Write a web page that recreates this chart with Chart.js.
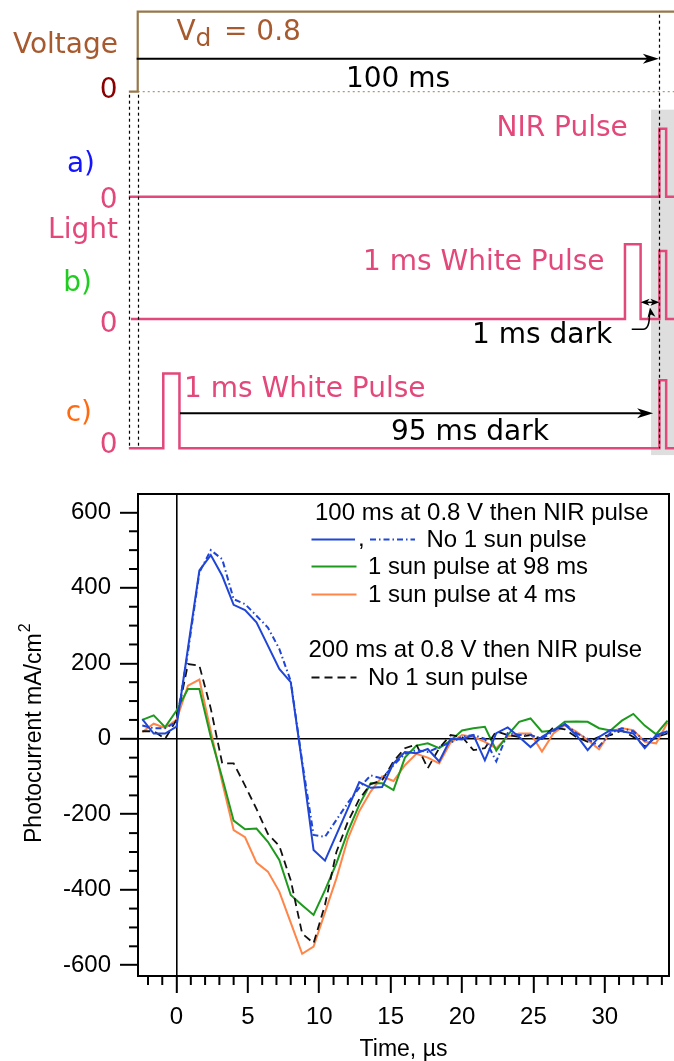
<!DOCTYPE html>
<html>
<head>
<meta charset="utf-8">
<title>NIR pulse photocurrent</title>
<script src="https://cdn.jsdelivr.net/npm/chart.js@4.4.0/dist/chart.umd.min.js"></script>
<style>
  html, body { margin: 0; padding: 0; background: #fff; }
  #wrap { position: relative; width: 674px; height: 1061px; overflow: hidden; }
  #timing { position: absolute; left: 0; top: 0; }
  #current { position: absolute; left: 0; top: 470px; }
</style>
</head>
<body>
<div id="wrap">
  <canvas id="timing" width="674" height="470"></canvas>
  <canvas id="current" width="674" height="591"></canvas>
</div>
<script>
// ---------- timing diagram (time in ms) ----------
const traceStart = -1.7;
const traceEnd = 103;
const voltageTime = [traceStart, 0, 0, traceEnd];
const voltageLevel = [0, 0, 0.8, 0.8];
const nirPulse = [100, 101.3];
const whitePulseB = [93.4, 96.4];
const whitePulseC = [4.9, 8.0];
const nirLevel = 1.0;
const whiteLevel = 1.1;

// ---------- photocurrent transients (time in µs, mA/cm²) ----------
const timeUs = [-2.4, -1.6, -0.8, 0, 0.8, 1.6, 2.4, 3.2, 4.0, 4.8, 5.6, 6.4, 7.2, 8.0, 8.8, 9.6,
  10.4, 11.2, 12.0, 12.8, 13.6, 14.4, 15.2, 16.0, 16.8, 17.6, 18.4, 19.2, 20.0, 20.8, 21.6, 22.4,
  23.2, 24.0, 24.8, 25.6, 26.4, 27.2, 28.0, 28.8, 29.6, 30.4, 31.2, 32.0, 32.8, 33.6, 34.4];
const noSunSolid = [52, 14, 14, 32, 240, 446, 487, 432, 355, 341, 309, 247, 185, 150, -65, -295,
  -323, -254, -185, -115, -130, -128, -65, -35, -38, -27, -60, 0, -2, 10, -57, 15,
  30, 5, -22, 5, 23, 38, 10, -30, 5, 23, 20, 14, -25, 10, 20];
const noSunDashDot = [35, 28, 28, 45, 230, 441, 500, 476, 370, 357, 326, 295, 238, 153, -60, -255,
  -260, -215, -170, -130, -97, -105, -70, -40, -30, -35, -22, -10, 5, 10, 0, -60,
  15, 10, 10, 0, 20, 40, 15, 0, -20, 15, 28, 20, -5, 5, 18];
const sunAt98 = [50, 62, 31, 75, 132, 132, 5, -103, -217, -240, -238, -273, -321, -414, -441, -467,
  -401, -330, -246, -175, -118, -118, -136, -50, -18, -12, -25, -5, 22, 28, 32, -31,
  10, 45, 54, 19, 22, 45, 46, 45, 28, 22, 48, 66, 35, 12, 48];
const sunAt4 = [18, 40, 29, 50, 141, 157, 20, -115, -242, -261, -328, -352, -405, -487, -570, -551,
  -460, -370, -265, -192, -140, -100, -112, -70, -40, -50, -65, -10, 10, 5, -8, -25,
  6, 14, 14, -34, 14, 36, 19, -3, -28, 19, 28, 23, -8, -12, 43];
const noSun200 = [20, 20, 0, 50, 198, 194, 80, -65, -65, -124, -186, -252, -284, -375, -516, -542,
  -440, -300, -220, -160, -120, -110, -60, -25, -15, -78, -25, 10, 5, -30, -25, 20,
  10, 5, 10, 0, 30, 25, 5, -8, 5, 10, 22, 5, -20, 5, 14];
const xTickLabels = [0, 5, 10, 15, 20, 25, 30];
const yTickLabels = [-600, -400, -200, 0, 200, 400, 600];

const PINK = '#e2487a';
const BROWN = '#97784a';
const SIENNA = '#a65a2e';
const BLUE = '#1f46d6';
const GREEN = '#1d9a1d';
const ORANGE = '#ff8548';
const DEJAVU = '"DejaVu Sans", Verdana, sans-serif';
const SANS = '"Liberation Sans", Arial, Helvetica, sans-serif';

Chart.defaults.font.family = SANS;
Chart.defaults.color = '#000';

// light trace: dark baseline with rectangular pulses [t0, t1, level]
function pulseTrace(start, pulses) {
  const pts = [{ x: start, y: 0 }];
  pulses.forEach(([t0, t1, lvl]) => {
    pts.push({ x: t0, y: 0 }, { x: t0, y: lvl }, { x: t1, y: lvl }, { x: t1, y: 0 });
  });
  pts.push({ x: traceEnd, y: 0 });
  return pts;
}

// filled, slightly barbed arrow head pointing along angle
function arrowHead(ctx, x, y, angle, len, half) {
  ctx.save();
  ctx.translate(x, y);
  ctx.rotate(angle);
  ctx.beginPath();
  ctx.moveTo(0, 0);
  ctx.lineTo(-len, -half);
  ctx.lineTo(-len * 0.72, 0);
  ctx.lineTo(-len, half);
  ctx.closePath();
  ctx.fill();
  ctx.restore();
}

function label(ctx, text, x, y, color, align, font, maxWidth) {
  ctx.font = font;
  ctx.fillStyle = color;
  ctx.textAlign = align;
  ctx.textBaseline = 'alphabetic';
  if (maxWidth) ctx.fillText(text, x, y, maxWidth);
  else ctx.fillText(text, x, y);
}

const TIMING_H = 470;
// each row gets its own hidden y axis so that level 0 sits on the row baseline
function rowAxis(basePx, pxPerUnit) {
  return { type: 'linear', display: false, min: -(TIMING_H - basePx) / pxPerUnit, max: basePx / pxPerUnit };
}

const timingDecor = {
  id: 'timingDecor',
  beforeDatasetsDraw(chart) {
    const { ctx, chartArea, scales } = chart;
    const { x, yV, yA, yC } = scales;
    ctx.save();
    // NIR probe window
    ctx.fillStyle = '#dedede';
    const bx = x.getPixelForValue(98.4);
    const top = yA.getPixelForValue(1.28);
    const bottom = yC.getPixelForValue(-0.1);
    ctx.fillRect(bx, top, chartArea.right - bx, bottom - top);
    // voltage zero reference
    ctx.strokeStyle = '#b39874';
    ctx.lineWidth = 1.3;
    ctx.setLineDash([2, 3]);
    ctx.beginPath();
    ctx.moveTo(x.getPixelForValue(0), yV.getPixelForValue(0));
    ctx.lineTo(chartArea.right, yV.getPixelForValue(0));
    ctx.stroke();
    ctx.restore();
  },
  afterDatasetsDraw(chart) {
    const { ctx, scales } = chart;
    const { x, yV, yB, yC } = scales;
    ctx.save();
    // time markers
    ctx.strokeStyle = '#000';
    ctx.lineWidth = 1.2;
    ctx.setLineDash([3, 3]);
    [[traceStart, -0.03], [0, -0.03], [nirPulse[0], 0.77]].forEach(([t, v]) => {
      const px = Math.round(x.getPixelForValue(t)) + 0.5;
      ctx.beginPath();
      ctx.moveTo(px, yV.getPixelForValue(v));
      ctx.lineTo(px, yC.getPixelForValue(0));
      ctx.stroke();
    });
    ctx.setLineDash([]);

    ctx.lineWidth = 2;
    ctx.fillStyle = '#000';
    // 100 ms arrow
    let ay = yV.getPixelForValue(0.33);
    let x0 = x.getPixelForValue(-0.2), x1 = x.getPixelForValue(99.9);
    ctx.beginPath(); ctx.moveTo(x0, ay); ctx.lineTo(x1 - 8, ay); ctx.stroke();
    arrowHead(ctx, x1, ay, 0, 16, 5);
    // 95 ms dark arrow
    ay = yC.getPixelForValue(0.515);
    x0 = x.getPixelForValue(whitePulseC[1] + 0.1); x1 = x.getPixelForValue(98.8);
    ctx.beginPath(); ctx.moveTo(x0, ay); ctx.lineTo(x1 - 8, ay); ctx.stroke();
    arrowHead(ctx, x1, ay, 0, 16, 5);
    // 1 ms dark double arrow
    ay = yB.getPixelForValue(0.245);
    x0 = x.getPixelForValue(whitePulseB[1]); x1 = x.getPixelForValue(nirPulse[0]);
    ctx.lineWidth = 1.6;
    ctx.beginPath(); ctx.moveTo(x0 + 5, ay); ctx.lineTo(x1 - 5, ay); ctx.stroke();
    arrowHead(ctx, x1, ay, 0, 9, 3.5);
    arrowHead(ctx, x0, ay, Math.PI, 9, 3.5);
    // hook from the label up to the gap
    const hy = yB.getPixelForValue(-0.15);
    const hx0 = x.getPixelForValue(94.7), hx1 = x.getPixelForValue(96.9), hx2 = x.getPixelForValue(98.1);
    const tipY = yB.getPixelForValue(0.17);
    ctx.beginPath();
    ctx.moveTo(hx0, hy);
    ctx.lineTo(hx1, hy);
    ctx.quadraticCurveTo(hx2, hy, hx2, tipY + 7);
    ctx.stroke();
    arrowHead(ctx, hx2 + 0.5, tipY, -Math.PI / 2 - 0.15, 10, 4);

    // text
    const F = '28px ' + DEJAVU;
    label(ctx, 'Voltage', 118, 53, SIENNA, 'right', F, 108);
    label(ctx, '0', 117.5, 98, '#8b0000', 'right', F);
    label(ctx, 'V', 176.5, 40, SIENNA, 'left', F);
    label(ctx, 'd', 195.5, 46, SIENNA, 'left', '25px ' + DEJAVU);
    label(ctx, '= 0.8', 224, 40, SIENNA, 'left', F, 79);
    label(ctx, '100 ms', (x.getPixelForValue(0) + x.getPixelForValue(100)) / 2 - 0.5, 87, '#000', 'center', F, 106);
    label(ctx, 'NIR Pulse', 496.5, 136, PINK, 'left', F, 136);
    label(ctx, 'a)', 95, 172, '#1414ff', 'right', F);
    label(ctx, '0', 117.5, 208, PINK, 'right', F);
    label(ctx, 'Light', 118, 238, PINK, 'right', F, 70);
    label(ctx, '1 ms White Pulse', 363, 270, PINK, 'left', F, 248);
    label(ctx, 'b)', 92, 291, '#20cc20', 'right', F);
    label(ctx, '0', 117.5, 331.5, PINK, 'right', F);
    label(ctx, '1 ms dark', 472, 343, '#000', 'left', F, 143);
    label(ctx, '1 ms White Pulse', 184, 396.5, PINK, 'left', F, 248);
    label(ctx, 'c)', 92, 421, '#ff6a10', 'right', F);
    label(ctx, '95 ms dark', 391, 440, '#000', 'left', F, 164);
    label(ctx, '0', 117.5, 452.5, PINK, 'right', F);
    ctx.restore();
  }
};

new Chart(document.getElementById('timing'), {
  type: 'line',
  data: {
    datasets: [
      {
        label: 'Voltage',
        data: voltageTime.map((t, i) => ({ x: t, y: voltageLevel[i] })),
        yAxisID: 'yV', borderColor: BROWN, borderWidth: 2.2
      },
      {
        label: 'a) NIR only',
        data: pulseTrace(traceStart, [[nirPulse[0], nirPulse[1], nirLevel]]),
        yAxisID: 'yA', borderColor: PINK, borderWidth: 2.5
      },
      {
        label: 'b) white then NIR',
        data: pulseTrace(-1.3, [[whitePulseB[0], whitePulseB[1], whiteLevel], [nirPulse[0], nirPulse[1], nirLevel]]),
        yAxisID: 'yB', borderColor: PINK, borderWidth: 2.5
      },
      {
        label: 'c) early white then NIR',
        data: pulseTrace(traceStart, [[whitePulseC[0], whitePulseC[1], whiteLevel], [nirPulse[0], nirPulse[1], nirLevel]]),
        yAxisID: 'yC', borderColor: PINK, borderWidth: 2.5
      }
    ]
  },
  options: {
    responsive: false,
    animation: false,
    devicePixelRatio: 1,
    events: [],
    layout: { padding: 0 },
    elements: { point: { radius: 0 }, line: { tension: 0, borderJoinStyle: 'miter', fill: false } },
    plugins: { legend: { display: false }, tooltip: { enabled: false } },
    scales: {
      x: { type: 'linear', display: false, min: -26.4, max: 102.8 },
      yV: rowAxis(91.7, 100),
      yA: rowAxis(196.7, 68),
      yB: rowAxis(319, 68),
      yC: rowAxis(448.3, 68)
    }
  },
  plugins: [timingDecor]
});

// ---------- photocurrent chart ----------
const pts = vals => timeUs.map((t, i) => ({ x: t, y: vals[i] }));
const TICK_FONT = { family: SANS, size: 24 };

const currentDecor = {
  id: 'currentDecor',
  afterDraw(chart) {
    const { ctx, chartArea: a, scales } = chart;
    const { x, y } = scales;
    ctx.save();
    ctx.strokeStyle = '#000';
    // minor ticks
    ctx.lineWidth = 2;
    x.ticks.forEach(t => {
      if (xTickLabels.includes(t.value)) return;
      const px = x.getPixelForValue(t.value);
      ctx.beginPath(); ctx.moveTo(px, a.bottom); ctx.lineTo(px, a.bottom + 9); ctx.stroke();
    });
    y.ticks.forEach(t => {
      if (yTickLabels.includes(t.value)) return;
      const py = y.getPixelForValue(t.value);
      ctx.beginPath(); ctx.moveTo(a.left, py); ctx.lineTo(a.left - 9, py); ctx.stroke();
    });
    // frame
    ctx.lineWidth = 2;
    ctx.strokeRect(a.left, a.top, a.right - a.left, a.bottom - a.top);

    // axis titles
    ctx.fillStyle = '#000';
    ctx.font = '23px ' + SANS;
    ctx.textAlign = 'center';
    ctx.textBaseline = 'alphabetic';
    ctx.fillText('Time, µs', (a.left + a.right) / 2, 586);
    ctx.save();
    ctx.translate(40.5, 373);
    ctx.rotate(-Math.PI / 2);
    ctx.textAlign = 'left';
    ctx.fillText('Photocurrent mA/cm', 0, 0);
    const w = ctx.measureText('Photocurrent mA/cm').width;
    ctx.font = '16px ' + SANS;
    ctx.fillText('2', w + 1, -11);
    ctx.restore();

    // legend
    const LF = '24px ' + SANS;
    const sample = (x0, x1, yy, color, dash) => {
      ctx.save();
      ctx.strokeStyle = color;
      ctx.lineWidth = 2;
      ctx.setLineDash(dash);
      ctx.beginPath(); ctx.moveTo(x0, yy); ctx.lineTo(x1, yy); ctx.stroke();
      ctx.restore();
    };
    label(ctx, '100 ms at 0.8 V then NIR pulse', 315, 49.5, '#000', 'left', LF, 335);
    sample(311.5, 355, 69.5, BLUE, []);
    label(ctx, ',', 358, 76, '#000', 'left', LF);
    sample(370, 415, 69.5, BLUE, [6, 3, 1.5, 3]);
    label(ctx, 'No 1 sun pulse', 426.5, 77, '#000', 'left', LF, 160);
    sample(311.5, 356.5, 96.5, GREEN, []);
    label(ctx, '1 sun pulse at 98 ms', 368, 104, '#000', 'left', LF, 220);
    sample(311.5, 356.5, 124.5, ORANGE, []);
    label(ctx, '1 sun pulse at 4 ms', 368, 131.5, '#000', 'left', LF, 210);
    label(ctx, '200 ms at 0.8 V then NIR pulse', 308.5, 187, '#000', 'left', LF, 334);
    sample(311.5, 356.5, 207.5, '#111', [8, 5]);
    label(ctx, 'No 1 sun pulse', 368, 215, '#000', 'left', LF, 160);
    ctx.restore();
  }
};

new Chart(document.getElementById('current'), {
  type: 'line',
  data: {
    datasets: [
      { label: 'No 1 sun pulse', data: pts(noSunSolid), borderColor: BLUE, borderWidth: 2 },
      { label: 'No 1 sun pulse (repeat)', data: pts(noSunDashDot), borderColor: BLUE, borderWidth: 2, borderDash: [6, 3, 1.5, 3] },
      { label: '200 ms, no 1 sun pulse', data: pts(noSun200), borderColor: '#111', borderWidth: 1.8, borderDash: [8, 5] },
      { label: '1 sun pulse at 98 ms', data: pts(sunAt98), borderColor: GREEN, borderWidth: 2 },
      { label: '1 sun pulse at 4 ms', data: pts(sunAt4), borderColor: ORANGE, borderWidth: 2 }
    ]
  },
  options: {
    responsive: false,
    animation: false,
    devicePixelRatio: 1,
    events: [],
    layout: { padding: { top: 24, right: 5, left: 0, bottom: 0 } },
    elements: { point: { radius: 0 }, line: { tension: 0, fill: false } },
    plugins: { legend: { display: false }, tooltip: { enabled: false } },
    scales: {
      x: {
        type: 'linear', min: -2.7, max: 34.5,
        afterFit: s => { s.height = 85; },
        ticks: {
          stepSize: 1, autoSkip: false, maxRotation: 0, includeBounds: false, padding: 10,
          color: '#000', font: TICK_FONT,
          callback: v => (xTickLabels.includes(v) ? String(v) : '')
        },
        grid: {
          drawOnChartArea: true,
          color: c => (c.tick && c.tick.value === 0 ? '#000' : 'rgba(0,0,0,0)'),
          lineWidth: 1.6,
          tickLength: 17,
          tickWidth: 2,
          tickColor: c => (c.tick && xTickLabels.includes(c.tick.value) ? '#000' : 'rgba(0,0,0,0)')
        },
        border: { display: true, color: '#000', width: 2 }
      },
      y: {
        type: 'linear', min: -628.7, max: 648.8,
        afterFit: s => { s.width = 138; },
        ticks: {
          stepSize: 50, autoSkip: false, includeBounds: false, padding: 9,
          color: '#000', font: TICK_FONT,
          callback: v => (yTickLabels.includes(v) ? String(v) : '')
        },
        grid: {
          drawOnChartArea: true,
          color: c => (c.tick && c.tick.value === 0 ? '#000' : 'rgba(0,0,0,0)'),
          lineWidth: 1.6,
          tickLength: 18,
          tickWidth: 2,
          tickColor: c => (c.tick && yTickLabels.includes(c.tick.value) ? '#000' : 'rgba(0,0,0,0)')
        },
        border: { display: true, color: '#000', width: 2 }
      }
    }
  },
  plugins: [currentDecor]
});
</script>
</body>
</html>
